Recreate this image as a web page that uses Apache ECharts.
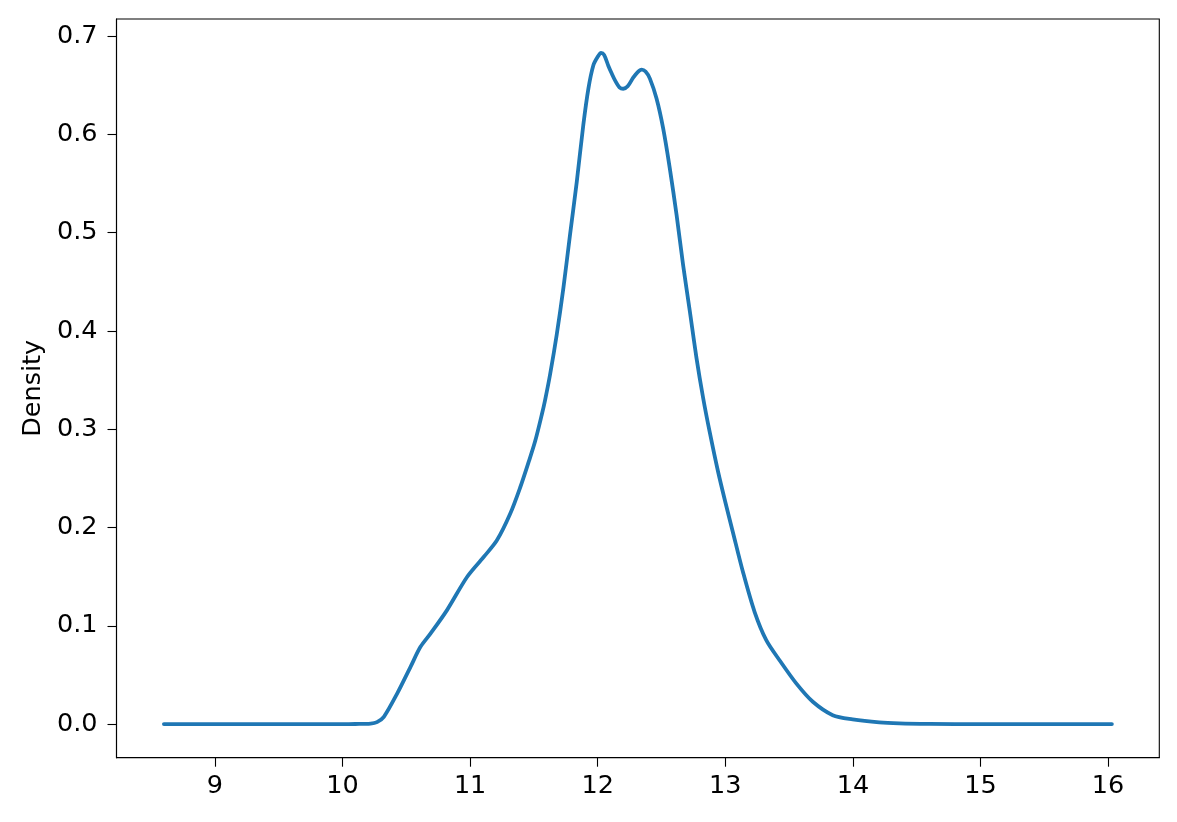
<!DOCTYPE html>
<html>
<head>
<meta charset="utf-8">
<script src="https://cdn.jsdelivr.net/npm/echarts@6/dist/echarts.min.js"></script>
<style>
html,body{margin:0;padding:0;background:#fff;}
#chart{width:1177px;height:822px;}
</style>
</head>
<body>
<div id="chart"></div>
<script>
// KDE curve
const xValues = [8.6, 9.0, 9.5, 10.0, 10.1, 10.22, 10.27, 10.324, 10.428, 10.532, 10.611, 10.689, 10.819, 10.976, 11.106, 11.21, 11.314, 11.393, 11.457, 11.51, 11.562, 11.588, 11.627, 11.679, 11.731, 11.783, 11.836, 11.887, 11.927, 11.966, 12.0, 12.026, 12.05, 12.083, 12.11, 12.14, 12.17, 12.2, 12.235, 12.278, 12.31, 12.344, 12.375, 12.409, 12.461, 12.513, 12.565, 12.618, 12.669, 12.722, 12.774, 12.826, 12.878, 12.943, 13.0, 13.06, 13.138, 13.23, 13.321, 13.425, 13.556, 13.686, 13.842, 13.998, 14.207, 14.363, 14.6, 15.0, 15.5, 16.03];
const densityValues = [0, 0, 0, 0, 0.0001, 0.0005, 0.002, 0.0074, 0.031, 0.058, 0.0786, 0.092, 0.116, 0.1497, 0.170, 0.187, 0.214, 0.241, 0.266, 0.288, 0.315, 0.330, 0.356, 0.3965, 0.4438, 0.4979, 0.552, 0.6095, 0.6467, 0.6704, 0.679, 0.683, 0.681, 0.670, 0.662, 0.654, 0.648, 0.6465, 0.649, 0.6578, 0.663, 0.666, 0.664, 0.6568, 0.6365, 0.6061, 0.5655, 0.5182, 0.4675, 0.4201, 0.3727, 0.3321, 0.297, 0.257, 0.226, 0.195, 0.155, 0.114, 0.0854, 0.065, 0.0414, 0.0227, 0.0091, 0.0048, 0.0017, 0.0007, 0.0002, 0, 0, 0];
const xTicks = [9, 10, 11, 12, 13, 14, 15, 16];
const yTicks = [0.0, 0.1, 0.2, 0.3, 0.4, 0.5, 0.6, 0.7];
const yAxisName = 'Density';

const seriesData = xValues.map((x, i) => [x, densityValues[i]]);
const FONT = 'DejaVu Sans';
const FS = 25.5;
const chart = echarts.init(document.getElementById('chart'), null, {renderer: 'canvas'});
chart.setOption({
  animation: false,
  backgroundColor: '#ffffff',
  grid: {left: 116.5, right: 17.7, top: 19, bottom: 64.3, show: true, borderColor: '#000', borderWidth: 1.1, backgroundColor: 'transparent'},
  xAxis: {
    type: 'value', min: 8.2285, max: 16.4015,
    axisLine: {show: true, onZero: false, lineStyle: {color: '#000', width: 1.1}},
    axisTick: {show: true, inside: false, length: 9, lineStyle: {color: '#000', width: 1.1}, customValues: xTicks},
    axisLabel: {customValues: xTicks, color: '#000', fontFamily: FONT, fontSize: FS, margin: 16, formatter: v => String(v)},
    splitLine: {show: false}
  },
  yAxis: {
    type: 'value', min: -0.0342, max: 0.7175,
    name: yAxisName, nameLocation: 'middle', nameGap: 70, nameRotate: 90,
    nameTextStyle: {color: '#000', fontFamily: FONT, fontSize: FS},
    axisLine: {show: true, onZero: false, lineStyle: {color: '#000', width: 1.1}},
    axisTick: {show: true, inside: false, length: 9, lineStyle: {color: '#000', width: 1.1}, customValues: yTicks},
    axisLabel: {customValues: yTicks, color: '#000', fontFamily: FONT, fontSize: FS, margin: 19, formatter: v => v.toFixed(1)},
    splitLine: {show: false}
  },
  series: [{
    type: 'line', data: seriesData, showSymbol: false, smooth: 0.3,
    lineStyle: {color: '#1f77b4', width: 3.8, cap: 'round', join: 'round'},
    itemStyle: {color: '#1f77b4'}
  }]
});
</script>
</body>
</html>
